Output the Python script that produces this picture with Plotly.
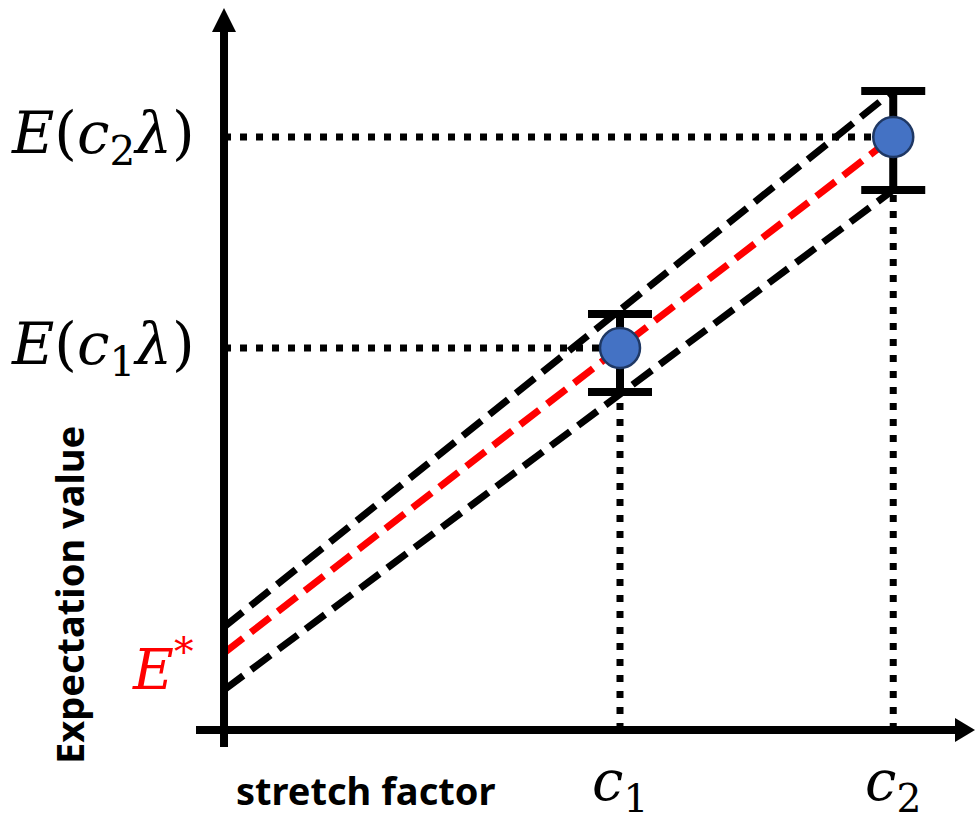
import plotly.graph_objects as go

# Stretch factors c1, c2 and the measured expectation values at those factors
stretch = [1.0, 1.69]
stretch_labels = ["<i>c</i><sub>1</sub>", "<i>c</i><sub>2</sub>"]
expect = [3.82, 5.93]
err_plus = [0.34, 0.46]
err_minus = [0.44, 0.53]
value_labels = [
    "<i>E</i>(<i>c</i><sub>1</sub><i>λ</i>)",
    "<i>E</i>(<i>c</i><sub>2</sub><i>λ</i>)",
]

# Zero-noise extrapolated value and the intercepts of the uncertainty band
e_star = 0.77
band_upper0 = 1.03
band_lower0 = 0.40

# Visible window in data units
X_RANGE = [-0.5657, 1.899]
Y_RANGE = [-0.87, 7.30]
W, H = 976, 817
px_x = (X_RANGE[1] - X_RANGE[0]) / W   # data units per pixel
px_y = (Y_RANGE[1] - Y_RANGE[0]) / H

MATH_FONT = "DejaVu Serif"
SANS_BOLD = "Noto Sans"

fig = go.Figure()

dash_style = "24px,10px"
c_last = stretch[-1]

# Uncertainty band (black dashed) and extrapolation line (red dashed)
fig.add_trace(go.Scatter(
    x=[0, c_last], y=[band_upper0, expect[-1] + err_plus[-1]],
    mode="lines", line=dict(color="black", width=7, dash=dash_style),
    hoverinfo="skip"))
fig.add_trace(go.Scatter(
    x=[0, c_last], y=[band_lower0, expect[-1] - err_minus[-1]],
    mode="lines", line=dict(color="black", width=7, dash=dash_style),
    hoverinfo="skip"))
fig.add_trace(go.Scatter(
    x=[0, c_last], y=[e_star, expect[-1]],
    mode="lines", line=dict(color="#ff0000", width=7, dash=dash_style),
    hoverinfo="skip"))

# Dotted guide lines to both axes
for c, e, em in zip(stretch, expect, err_minus):
    fig.add_trace(go.Scatter(
        x=[0, c], y=[e, e], mode="lines",
        line=dict(color="black", width=7, dash="7px,9px"), hoverinfo="skip"))
    fig.add_trace(go.Scatter(
        x=[c, c], y=[0, e - em], mode="lines",
        line=dict(color="black", width=7, dash="7px,9px"), hoverinfo="skip"))

# Measured points with error bars
fig.add_trace(go.Scatter(
    x=stretch, y=expect, mode="markers",
    marker=dict(size=40, color="#4472c4", line=dict(color="#1f3864", width=2.5)),
    error_y=dict(type="data", symmetric=False, array=err_plus, arrayminus=err_minus,
                 color="black", thickness=8, width=32),
    hoverinfo="skip"))

# Axes with arrow heads
axis_line = dict(color="black", width=8)
y_tip = Y_RANGE[1] - 8 * px_y
y_base = y_tip - 24 * px_y
x_tip = X_RANGE[1] - 1 * px_x
x_base = x_tip - 20 * px_x
shapes = [
    dict(type="line", xref="x", yref="y", x0=0, x1=0,
         y0=-17 * px_y, y1=y_base + 2 * px_y, line=axis_line),
    dict(type="line", xref="x", yref="y", x0=-28 * px_x, x1=x_base + 2 * px_x,
         y0=0, y1=0, line=axis_line),
    dict(type="path", xref="x", yref="y",
         path=f"M {-12 * px_x} {y_base} L {12 * px_x} {y_base} L 0 {y_tip} Z",
         fillcolor="black", line=dict(width=0)),
    dict(type="path", xref="x", yref="y",
         path=f"M {x_base} {-12 * px_y} L {x_base} {12 * px_y} L {x_tip} 0 Z",
         fillcolor="black", line=dict(width=0)),
]

annotations = []
for e, lab in zip(expect, value_labels):
    annotations.append(dict(
        x=0, y=e, xref="x", yref="y", text=lab, showarrow=False,
        xanchor="right", yanchor="middle", xshift=-27, yshift=0,
        font=dict(family=MATH_FONT, size=58, color="black")))
for c, lab in zip(stretch, stretch_labels):
    annotations.append(dict(
        x=c, y=0, xref="x", yref="y", text=lab, showarrow=False,
        xanchor="center", yanchor="top", yshift=-16,
        font=dict(family=MATH_FONT, size=56, color="black")))
annotations.append(dict(
    x=0, y=e_star, xref="x", yref="y", text="<i>E</i><sup>*</sup>", showarrow=False,
    xanchor="right", yanchor="middle", xshift=-29, yshift=-12,
    font=dict(family=MATH_FONT, size=56, color="#ff0000")))
annotations.append(dict(
    x=0, y=0, xref="x", yref="y", text="<b>stretch factor</b>", showarrow=False,
    xanchor="left", yanchor="top", xshift=10, yshift=-32,
    font=dict(family=SANS_BOLD, size=38, color="black")))
annotations.append(dict(
    x=0, y=0, xref="x", yref="y", text="<b>Expectation value</b>", showarrow=False,
    textangle=-90, xanchor="center", yanchor="middle", xshift=-155, yshift=135,
    font=dict(family=SANS_BOLD, size=38, color="black")))

fig.update_layout(
    width=W, height=H,
    margin=dict(l=0, r=0, t=0, b=0),
    paper_bgcolor="white", plot_bgcolor="white",
    showlegend=False,
    xaxis=dict(range=X_RANGE, visible=False, fixedrange=True),
    yaxis=dict(range=Y_RANGE, visible=False, fixedrange=True),
    shapes=shapes,
    annotations=annotations,
)

fig.write_html("out.html")
